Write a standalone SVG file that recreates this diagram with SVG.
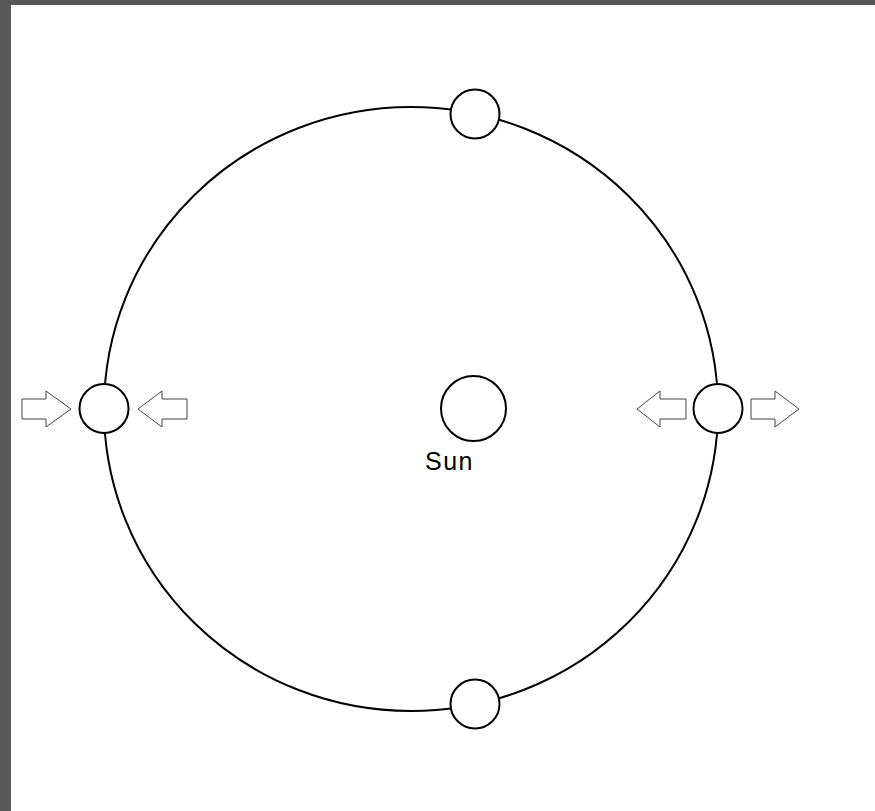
<svg xmlns="http://www.w3.org/2000/svg" width="875" height="811" viewBox="0 0 875 811">
<style>
.planet{fill:#fff;stroke:#000;stroke-width:2}
.arrow{fill:#fff;stroke:#444;stroke-width:1}
.label{font-family:"Liberation Sans",Arial,sans-serif;font-size:25px;fill:#000;letter-spacing:1.5px}
</style>
<rect x="0" y="0" width="875" height="811" fill="#575757"/>
<rect x="11" y="5" width="864" height="806" fill="#fff"/>
<g id="connectors">
<ellipse id="orbit" cx="411" cy="409" rx="307" ry="302" fill="none" stroke="#000" stroke-width="2"/>
</g>
<g id="planet-top"><circle class="planet" cx="475" cy="114" r="24.5"/></g>
<g id="planet-bottom"><circle class="planet" cx="475" cy="704" r="24.5"/></g>
<g id="planet-left">
<circle class="planet" cx="104" cy="408.5" r="24.5"/>
<polygon class="arrow" points="22,399 46,399 46,391 71,409 46,427 46,419 22,419"/>
<polygon class="arrow" points="187,399 162,399 162,391 138,409 162,427 162,419 187,419"/>
</g>
<g id="planet-right">
<circle class="planet" cx="718" cy="408.5" r="24.5"/>
<polygon class="arrow" points="686,399 660,399 660,391 637,409 660,427 660,419 686,419"/>
<polygon class="arrow" points="751,399 775,399 775,391 799,409 775,427 775,419 751,419"/>
</g>
<g id="sun">
<circle class="planet" cx="473.5" cy="408.5" r="32.5"/>
<text class="label" x="425" y="470">Sun</text>
</g>
</svg>
